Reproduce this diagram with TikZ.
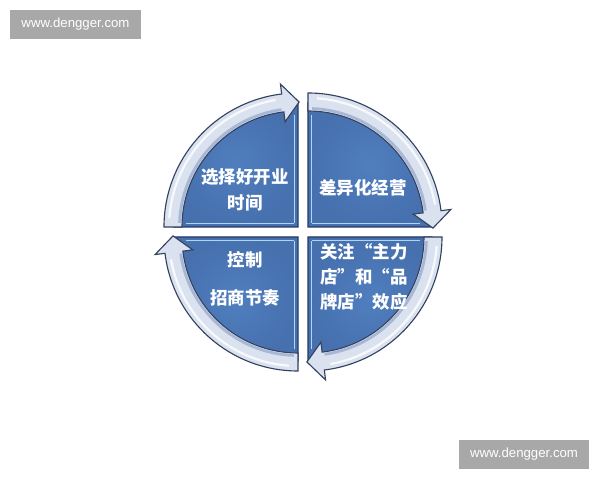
\documentclass[tikz,border=0pt]{standalone}
\usepackage{fontspec}
\setmainfont{Liberation Sans}
\newfontfamily\cjk{Noto Sans CJK SC}
\usetikzlibrary{calc}

\definecolor{quadblue}{RGB}{80,126,190}
\definecolor{quaddark}{RGB}{70,112,174}
\definecolor{quadedge}{RGB}{38,58,98}
\definecolor{bandfill}{RGB}{218,226,240}
\definecolor{bandshade}{RGB}{168,184,212}
\definecolor{bandedge}{RGB}{52,66,96}
\definecolor{glowblue}{RGB}{170,215,245}
\definecolor{markgray}{RGB}{168,168,168}

\begin{document}
\begin{tikzpicture}[x=0.025cm,y=0.025cm,
    quad/.style={inner color=quadblue, outer color=quaddark},
    band/.style={fill=bandfill, draw=bandedge, line width=0.8pt},
    glow/.style={draw=glowblue, line width=1.4pt},
    quadtext/.style={text=white, font=\cjk\bfseries\fontsize{12.4}{18.4}\selectfont, align=center},
    wmark/.style={fill=markgray, text=white, inner sep=0pt, minimum width=92.8pt,
        minimum height=20.6pt, font=\fontsize{9.4}{11}\selectfont}]
        % Page and margins
        \useasboundingbox (0,0) rectangle (600,480);
        \fill[white] (0,0) rectangle (600,480);

        % Centre of the wheel
        \coordinate (c) at (303,248);

        % Four quarter discs, each with its own curved arrow (clockwise)
        \foreach \k/\dx/\dy in {0/-5/5, 1/5/5, 2/5/-5, 3/-5/-5} {
            \begin{scope}[shift={($(c)+(\dx,\dy)$)}, rotate=-90*\k]
                \shade[quad] (0,0) -- (90:124) arc (90:180:124) -- cycle;
                \draw[quadedge, line width=0.9pt] (0,0) -- (90:124) arc (90:180:124) -- cycle;
                \draw[glow] (-3.5,4) -- (-3.5,112);
                \draw[glow] (-4,3.5) -- (-112,3.5);
                \draw[band] (180:134) arc (180:97:134) -- (97:144) -- (89.5:125)
                    -- (97:106) -- (97:116) arc (97:180:116) -- cycle;
                \draw[bandshade, line width=2pt] (178:118.5) arc (178:98:118.5);
                \draw[white, line width=1.6pt, opacity=0.8] (176:129) arc (176:100:129);
            \end{scope}
        }

        % Quadrant texts
        \node[quadtext] (tl) at (245,290) {选择好开业\\时间};
        \node[quadtext] (tr) at (363,292) {差异化经营};
        \node[quadtext, font=\cjk\bfseries\fontsize{12.4}{27}\selectfont] (bl) at (245,201) {控制\\招商节奏};
        \node[quadtext, anchor=west, align=left, inner sep=0pt,
            font=\cjk\bfseries\fontsize{12.4}{17.7}\selectfont] (br) at (320,203) {关注“主力\\店”和“品\\牌店”效应};

        % Watermarks
        \node[wmark] (wm1) at (75.5,455.5) {www.dengger.com};
        \node[wmark] (wm2) at (524,25.5) {www.dengger.com};
\end{tikzpicture}
\end{document}
